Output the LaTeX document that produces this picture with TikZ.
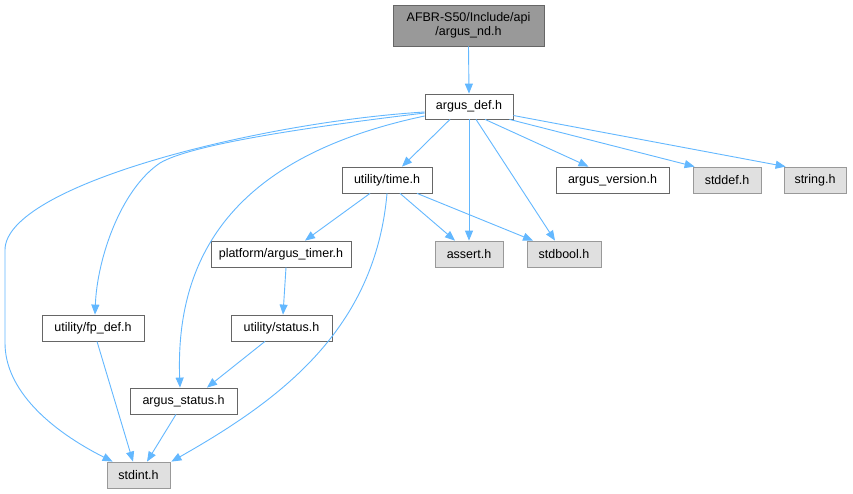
\documentclass[tikz,border=0pt]{standalone}
\usepackage{fontspec}
\setmainfont{Liberation Sans}
\usetikzlibrary{arrows.meta,calc}
\definecolor{edgec}{HTML}{63B8FF}
\definecolor{bordc}{HTML}{666666}
\definecolor{grayb}{HTML}{999999}
\definecolor{grayf}{HTML}{E0E0E0}
\definecolor{topf}{HTML}{999999}
\tikzset{
  filebox/.style={draw=bordc, fill=white, line width=0.8pt, minimum height=26pt, inner sep=0pt, font=\fontsize{12.5}{14.5}\selectfont, text=black},
  sysbox/.style={filebox, draw=grayb, fill=grayf},
  topbox/.style={filebox, fill=topf, minimum height=41pt, align=center},
  dep/.style={draw=edgec, line width=0.9pt, -{Triangle[length=10pt,width=8pt]}}
}
\begin{document}
\begin{tikzpicture}[x=1pt,y=-1pt]
\useasboundingbox (0,0) rectangle (853,493);
\fill[white] (0,0) rectangle (853,493);
% nodes
\node[topbox, minimum width=151pt] (top) at (468.5,25.5) {AFBR-S50/Include/api\\/argus\_nd.h};
\node[filebox, minimum width=88pt, minimum height=25pt] (def) at (469,106.5) {argus\_def.h};
\node[filebox, minimum width=90pt] (time) at (387,180) {utility/time.h};
\node[filebox, minimum width=113pt] (ver) at (612.5,180) {argus\_version.h};
\node[sysbox, minimum width=68pt] (stddef) at (727,180) {stddef.h};
\node[sysbox, minimum width=62pt] (string) at (815,180) {string.h};
\node[filebox, minimum width=140pt] (timer) at (281,254) {platform/argus\_timer.h};
\node[sysbox, minimum width=68pt] (assert) at (469,254) {assert.h};
\node[sysbox, minimum width=74pt] (stdbool) at (564,254) {stdbool.h};
\node[filebox, minimum width=101pt] (status) at (281.5,328) {utility/status.h};
\node[filebox, minimum width=102pt] (fpdef) at (93,328) {utility/fp\_def.h};
\node[filebox, minimum width=107pt] (astatus) at (183.5,401) {argus\_status.h};
\node[sysbox, minimum width=63pt] (stdint) at (138.5,475) {stdint.h};
% edges
\draw[dep] (top.south) -- (def.north);
\draw[dep] ($(def.south)+(-19,0)$) -- ($(time.north)+(15,0)$);
\draw[dep] ($(def.south)+(16,0)$) -- ($(ver.north)+(-24,0)$);
\draw[dep] ($(def.south east)+(-4,0)$) -- ($(stddef.north west)+(2,0)$);
\draw[dep] ($(def.east)+(0,9)$) -- ($(string.north west)+(2,0)$);
\draw[dep] (def.south) -- (assert.north);
\draw[dep] ($(def.south)+(7,0)$) -- ($(stdbool.north)+(-9,0)$);
\draw[dep] ($(def.west)+(0,5.5)$) .. controls (260,122) and (5,185) .. (5,250) -- (5,343) .. controls (5,390) and (50,430) .. ($(stdint.north west)+(6,0)$);
\draw[dep] ($(def.west)+(0,6.5)$) .. controls (300,128) and (190,145) .. (160,163) .. controls (120,190) and (97,260) .. ($(fpdef.north)+(2,0)$);
\draw[dep] ($(def.west)+(0,9.5)$) .. controls (240,155) and (175,250) .. ($(astatus.north)+(-3.5,0)$);
\draw[dep] ($(time.south)+(-17,0)$) -- ($(timer.north)+(24,0)$);
\draw[dep] ($(time.south)+(13,0)$) -- ($(assert.north)+(-14,0)$);
\draw[dep] ($(time.south)+(30,0)$) -- ($(stdbool.north)+(-31,0)$);
\draw[dep] (time.south) .. controls (375,330) and (280,400) .. ($(stdint.north east)+(1,0)$);
\draw[dep] ($(timer.south)+(5,0)$) -- ($(status.north)+(1.5,0)$);
\draw[dep] ($(status.south)+(-16.5,0)$) -- ($(astatus.north)+(23.5,0)$);
\draw[dep] ($(fpdef.south)+(4,0)$) -- ($(stdint.north)+(-5.5,0)$);
\draw[dep] ($(astatus.south)+(-7.5,0)$) -- ($(stdint.north)+(8.5,0)$);
\end{tikzpicture}
\end{document}
